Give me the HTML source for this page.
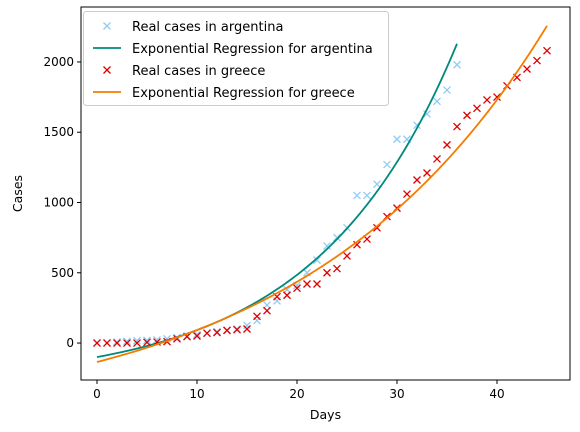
<!DOCTYPE html>
<html><head><meta charset="utf-8"><style>
body{margin:0;background:#fff;}
svg{display:block;font-family:"DejaVu Sans","Liberation Sans",sans-serif;}
</style></head><body>
<svg id="chart" width="580" height="432"></svg>
<script>
const argDays=[0,1,2,3,4,5,6,7,8,9,10,11,12,13,14,15,16,17,18,19,20,21,22,23,24,25,26,27,28,29,30,31,32,33,34,35,36];
const argCases=[1,2,8,12,17,19,22,30,40,50,60,70,80,90,100,125,160,270,300,380,410,500,590,690,750,820,1050,1050,1130,1270,1450,1450,1550,1630,1720,1800,1980];
const grcDays=[0,1,2,3,4,5,6,7,8,9,10,11,12,13,14,15,16,17,18,19,20,21,22,23,24,25,26,27,28,29,30,31,32,33,34,35,36,37,38,39,40,41,42,43,44,45];
const grcCases=[0,0,0,0,0,5,7,10,30,45,50,70,75,90,95,100,190,230,330,340,390,420,420,500,530,620,700,740,820,900,960,1060,1160,1210,1310,1410,1540,1620,1670,1730,1750,1830,1890,1950,2010,2080];
const argFit=[184,0.0715,-284];
const grcFit=[449,0.041,-584];
const xTicks=[0,10,20,30,40];
const yTicks=[0,500,1000,1500,2000];

const L=81,R=570,T=7,B=380;
const xMin=-1.6,xMax=47.3,yMin=-263,yMax=2391;
const sx=d=>L+(d-xMin)/(xMax-xMin)*(R-L);
const sy=v=>B-(v-yMin)/(yMax-yMin)*(B-T);
const svg=document.getElementById('chart');
const NS='http://www.w3.org/2000/svg';
function mk(tag,attrs,parent){const e=document.createElementNS(NS,tag);for(const k in attrs)e.setAttribute(k,attrs[k]);(parent||svg).appendChild(e);return e;}

function cross(x,y,color,g){
  const s=3.5;
  mk('path',{d:`M${x-s},${y-s}L${x+s},${y+s}M${x-s},${y+s}L${x+s},${y-s}`,stroke:color,'stroke-width':1.3,fill:'none'},g);
}
function curve(p,x0,x1,color,name){
  let d='';
  for(let i=0;i<=100;i++){const x=x0+(x1-x0)*i/100;const y=p[0]*Math.exp(p[1]*x)+p[2];d+=(i?'L':'M')+sx(x).toFixed(2)+','+sy(y).toFixed(2);}
  const e=mk('path',{d,stroke:color,'stroke-width':1.8,fill:'none'});
  
  
}

const g1=mk('g',{});


argDays.forEach((d,i)=>cross(sx(d),sy(argCases[i]),'#8ecdf5',g1));
curve(argFit,0,36,'#00897b','argentina-regression-line');
const g2=mk('g',{});


grcDays.forEach((d,i)=>cross(sx(d),sy(grcCases[i]),'#e00000',g2));
curve(grcFit,0,45,'#f57c00','greece-regression-line');

const frame=mk('rect',{x:L,y:T,width:R-L,height:B-T,fill:'none',stroke:'#000','stroke-width':1});



xTicks.forEach(t=>{
  const x=sx(t);
  mk('line',{x1:x,x2:x,y1:B,y2:B+4,stroke:'#000'});
  const tx=mk('text',{x:x,y:B+18,'text-anchor':'middle','font-size':12});tx.textContent=t;
  
  
});
yTicks.forEach(t=>{
  const y=sy(t);
  mk('line',{x1:L-4,x2:L,y1:y,y2:y,stroke:'#000'});
  const tx=mk('text',{x:L-7,y:y+4,'text-anchor':'end','font-size':12});tx.textContent=t;
  
  
});
const xt=mk('text',{x:(L+R)/2,y:419,'text-anchor':'middle','font-size':12.5});xt.textContent='Days';


const yt=mk('text',{x:22,y:(T+B)/2,'text-anchor':'middle','font-size':12.5,transform:`rotate(-90 22 ${(T+B)/2})`});yt.textContent='Cases';



const leg=mk('g',{});


mk('rect',{x:83.5,y:11.5,width:305,height:94,rx:3,fill:'#fff','fill-opacity':0.85,stroke:'#ccc'},leg);
const entries=[['x','#8ecdf5','Real cases in argentina'],['l','#00897b','Exponential Regression for argentina'],['x','#e00000','Real cases in greece'],['l','#f57c00','Exponential Regression for greece']];
entries.forEach((e,i)=>{
  const y=26+i*22;
  const eg=mk('g',{},leg);
  
  
  if(e[0]==='x')cross(107,y,e[1],eg);else mk('line',{x1:93,x2:121,y1:y,y2:y,stroke:e[1],'stroke-width':1.8},eg);
  const t=mk('text',{x:132,y:y+5,'font-size':13},eg);t.textContent=e[2];
});
</script>
</body></html>
